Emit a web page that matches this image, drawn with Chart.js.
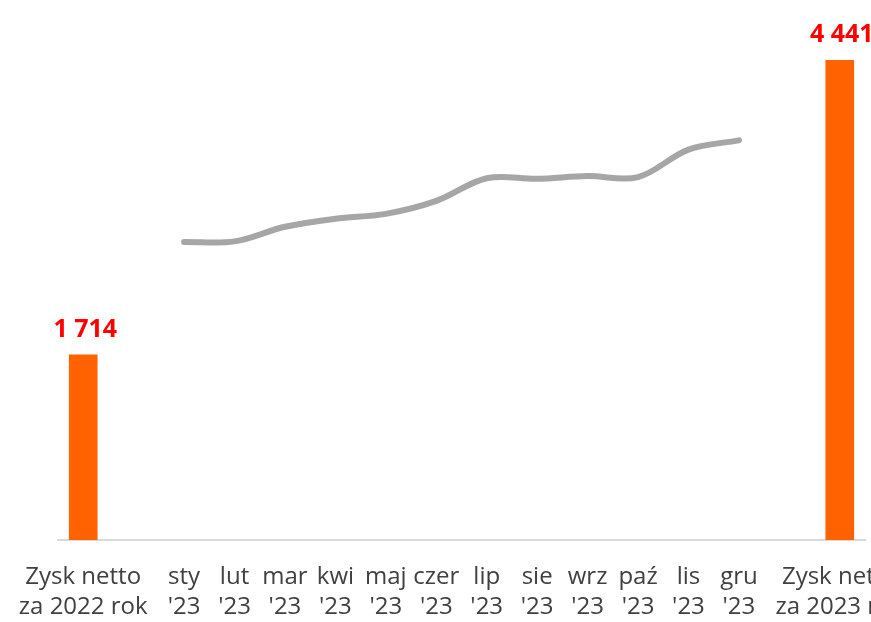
<!DOCTYPE html>
<html>
<head>
<meta charset="utf-8">
<script src="https://cdn.jsdelivr.net/npm/chart.js@4"></script>
<style>
  html, body { margin: 0; padding: 0; background: #fff; overflow: hidden; }
  #wrap { width: 871px; height: 622px; position: relative; }
</style>
</head>
<body>
<div id="wrap"><canvas id="chart1"></canvas></div>
<script>
var labels = [
    ["Zysk netto", "za 2022 rok"], "",
    ["sty", "'23"], ["lut", "'23"], ["mar", "'23"], ["kwi", "'23"], ["maj", "'23"], ["czer", "'23"],
    ["lip", "'23"], ["sie", "'23"], ["wrz", "'23"], ["paź", "'23"], ["lis", "'23"], ["gru", "'23"],
    "", ["Zysk netto", "za 2023 rok"]
];
var barValues = [1714, null, null, null, null, null, null, null, null, null, null, null, null, null, null, 4441];
var lineValues = [null, null, 2760, 2765, 2900, 2975, 3020, 3140, 3350, 3345, 3370, 3360, 3615, 3700, null, null];

var ctx = document.getElementById("chart1");

function fmt(v) {
    return String(v).replace(/\B(?=(\d{3})+(?!\d))/g, " ");
}

var barLabels = {
    id: 'barLabels',
    afterDatasetsDraw: function (chart) {
        var c = chart.ctx;
        var meta = chart.getDatasetMeta(0);
        c.save();
        c.fillStyle = "#ff0000";
        c.font = "bold 25px 'Open Sans'";
        c.textAlign = "center";
        c.textBaseline = "bottom";
        meta.data.forEach(function (bar, i) {
            if (barValues[i] == null) return;
            c.fillText(fmt(barValues[i]), bar.x + 2, bar.y - 13);
        });
        c.restore();
    }
};

var chart1 = new Chart(ctx, {
    data: {
        labels: labels,
        datasets: [{
            type: 'bar',
            data: barValues,
            backgroundColor: "#ff6200",
            barThickness: 28,
            order: 2
        }, {
            type: 'line',
            data: lineValues,
            borderColor: "#a6a6a6",
            borderWidth: 6,
            borderCapStyle: 'round',
            pointRadius: 0,
            tension: 0.35,
            fill: false,
            order: 1
        }]
    },
    options: {
        responsive: true,
        maintainAspectRatio: false,
        animation: false,
        layout: { padding: { left: 58, right: 6, top: 0, bottom: 0 } },
        plugins: { legend: { display: false }, tooltip: { enabled: false } },
        scales: {
            x: {
                grid: { display: false, drawTicks: false },
                border: { display: true, color: "#d9d9d9", width: 2 },
                ticks: {
                    color: "#404040",
                    autoSkip: false,
                    maxRotation: 0,
                    padding: 22,
                    font: { family: "'Open Sans'", size: 24, lineHeight: 30 / 24 }
                },
                afterFit: function (s) {
                    s.height = 82;
                    s.paddingLeft = 0;
                    s.paddingRight = 0;
                }
            },
            y: {
                display: false,
                min: 0,
                max: 5000
            }
        }
    },
    plugins: [barLabels]
});
</script>
</body>
</html>
